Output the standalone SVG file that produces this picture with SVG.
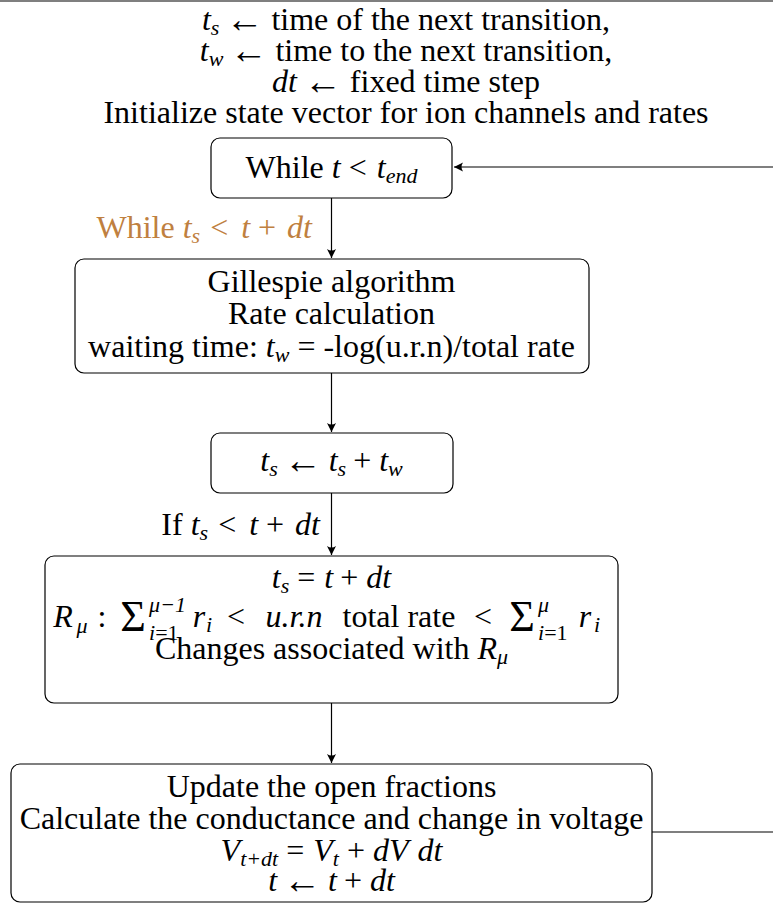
<svg xmlns="http://www.w3.org/2000/svg" width="773" height="903" viewBox="0 0 773 903">
<defs>
<marker id="arr" markerWidth="12" markerHeight="12" refX="10" refY="6" orient="auto" markerUnits="userSpaceOnUse">
<path d="M10,6 L1,1.5 Q4,6 1,10.5 Z" fill="#000"/>
</marker>
<style>
.t{font-family:"Liberation Serif","Times New Roman",serif;font-size:32px;fill:#000}
.c{text-anchor:middle}
.e{text-anchor:end}
.m{font-style:italic}
.s{font-size:22px}
.o{fill:#BF8040}
.ar{font-size:38px}
.sig{font-size:44px}
.box{fill:#fff;stroke:#000;stroke-width:1.2}
.edge{fill:none;stroke:#000;stroke-width:1.2}
.arrow{marker-end:url(#arr)}
</style>
</defs>
<rect width="773" height="903" fill="#fff"/>

<g id="connectors">
<path class="edge arrow" d="M331.5,198 V258"/>
<path class="edge arrow" d="M331.5,373 V432"/>
<path class="edge arrow" d="M331.5,493 V555"/>
<path class="edge arrow" d="M331.5,703 V763"/>
<path class="edge arrow" d="M652,832 H800 V167 H454"/>
<text class="t e o" x="312" y="238">While <tspan class="m">t</tspan><tspan class="m s" dy="5">s</tspan><tspan dy="-5" dx="10">&lt;</tspan><tspan class="m" dx="13">t</tspan><tspan dx="8">+</tspan><tspan class="m" dx="11">dt</tspan></text>
<text class="t e" x="320" y="535">If <tspan class="m">t</tspan><tspan class="m s" dy="5">s</tspan><tspan dy="-5" dx="10">&lt;</tspan><tspan class="m" dx="13">t</tspan><tspan dx="8">+</tspan><tspan class="m" dx="11">dt</tspan></text>
</g>

<g id="init">
<path class="edge" d="M0,1 H773"/>
<text class="t c" x="406" y="30"><tspan class="m">t</tspan><tspan class="m s" dy="5">s</tspan><tspan class="ar" dy="-3" dx="6">←</tspan><tspan dy="-2" dx="8">time of the next transition,</tspan></text>
<text class="t c" x="406" y="61"><tspan class="m">t</tspan><tspan class="m s" dy="5">w</tspan><tspan class="ar" dy="-3" dx="6">←</tspan><tspan dy="-2" dx="8">time to the next transition,</tspan></text>
<text class="t c" x="406" y="92"><tspan class="m">dt</tspan><tspan class="ar" dx="7" dy="2">←</tspan><tspan dy="-2" dx="8">fixed time step</tspan></text>
<text class="t c" x="406" y="123">Initialize state vector for ion channels and rates</text>
</g>

<g id="while">
<rect class="box" x="211" y="138" width="241" height="60" rx="9"/>
<text class="t c" x="331.5" y="178">While <tspan class="m">t</tspan><tspan dx="8">&lt;</tspan><tspan class="m" dx="10">t</tspan><tspan class="m s" dy="5">end</tspan></text>
</g>

<g id="gillespie">
<rect class="box" x="75" y="259" width="514" height="114" rx="9"/>
<text class="t c" x="331.5" y="292">Gillespie algorithm</text>
<text class="t c" x="331.5" y="324">Rate calculation</text>
<text class="t c" x="331.5" y="357">waiting time: <tspan class="m">t</tspan><tspan class="m s" dy="5">w</tspan><tspan dy="-5"> = -log(u.r.n)/total rate</tspan></text>
</g>

<g id="update-ts">
<rect class="box" x="211" y="433" width="242" height="60" rx="9"/>
<text class="t c" x="331.5" y="471"><tspan class="m">t</tspan><tspan class="m s" dy="5">s</tspan><tspan class="ar" dy="-3" dx="6">←</tspan><tspan class="m" dy="-2" dx="7">t</tspan><tspan class="m s" dy="5">s</tspan><tspan dy="-5" dx="7">+</tspan><tspan class="m" dx="8">t</tspan><tspan class="m s" dy="5">w</tspan></text>
</g>

<g id="reaction">
<rect class="box" x="45" y="556" width="573" height="147" rx="9"/>
<text class="t c" x="331.5" y="588"><tspan class="m">t</tspan><tspan class="m s" dy="5">s</tspan><tspan dy="-5" dx="8">=</tspan><tspan class="m" dx="9">t</tspan><tspan dx="7">+</tspan><tspan class="m" dx="8">dt</tspan></text>
<text class="t c">
<tspan class="m" x="67" y="627">R</tspan>
<tspan class="m s" x="86" y="633">μ</tspan>
<tspan x="106" y="627">:</tspan>
<tspan class="sig" x="133" y="631">Σ</tspan>
</text>
<text class="t">
<tspan class="m s" x="149" y="612">μ−1</tspan>
<tspan class="s" x="149" y="640"><tspan class="m">i</tspan>=1</tspan>
</text>
<text class="t c">
<tspan class="m" x="203" y="627">r</tspan>
<tspan class="m s" x="213" y="632">i</tspan>
<tspan x="240" y="627">&lt;</tspan>
<tspan class="m" x="298" y="627">u.r.n</tspan>
<tspan x="403" y="627">total rate</tspan>
<tspan x="487" y="627">&lt;</tspan>
<tspan class="sig" x="522" y="631">Σ</tspan>
</text>
<text class="t">
<tspan class="m s" x="538" y="612">μ</tspan>
<tspan class="s" x="538" y="640"><tspan class="m">i</tspan>=1</tspan>
</text>
<text class="t c">
<tspan class="m" x="589" y="627">r</tspan>
<tspan class="m s" x="597" y="632">i</tspan>
</text>
<text class="t c" x="331.5" y="659">Changes associated with <tspan class="m">R</tspan><tspan class="m s" dy="5">μ</tspan></text>
</g>

<g id="update-v">
<rect class="box" x="11" y="764" width="641" height="138" rx="9"/>
<text class="t c" x="331.5" y="797">Update the open fractions</text>
<text class="t c" x="331.5" y="829">Calculate the conductance and change in voltage</text>
<text class="t c" x="331.5" y="861"><tspan class="m">V</tspan><tspan class="m s" dy="5">t+dt</tspan><tspan dy="-5" dx="8">=</tspan><tspan class="m" dx="9">V</tspan><tspan class="m s" dy="5">t</tspan><tspan dy="-5" dx="8">+</tspan><tspan class="m" dx="8">dV</tspan><tspan class="m" dx="9">dt</tspan></text>
<text class="t c" x="331.5" y="891"><tspan class="m">t</tspan><tspan class="ar" dx="6" dy="2">←</tspan><tspan class="m" dx="7" dy="-2">t</tspan><tspan dx="7">+</tspan><tspan class="m" dx="8">dt</tspan></text>
</g>
</svg>
